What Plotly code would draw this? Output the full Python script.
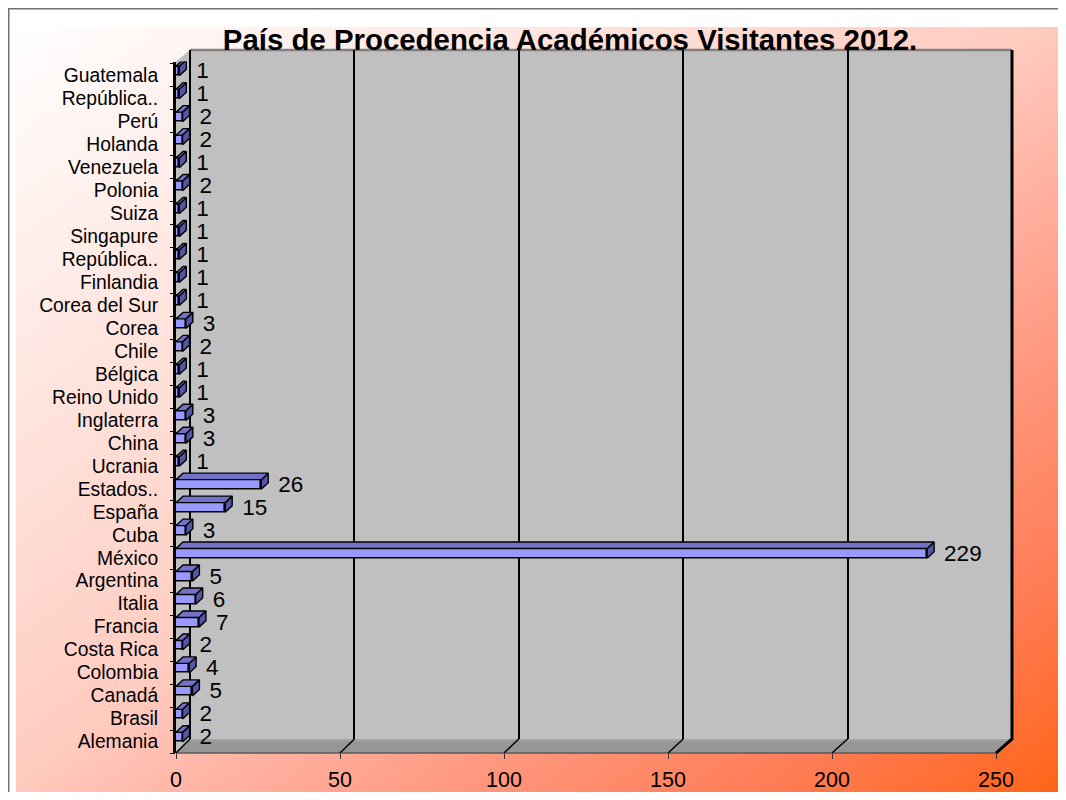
import base64
import plotly.graph_objects as go

# the page has an 8px body margin, so the figure fills the rest of the window
OFF = 8
W, H = 1066 - 2 * OFF, 800 - 2 * OFF

# data, read top to bottom as in the chart
countries = ["Guatemala", "República..", "Perú", "Holanda", "Venezuela", "Polonia",
             "Suiza", "Singapure", "República..", "Finlandia", "Corea del Sur", "Corea",
             "Chile", "Bélgica", "Reino Unido", "Inglaterra", "China", "Ucrania",
             "Estados..", "España", "Cuba", "México", "Argentina", "Italia", "Francia",
             "Costa Rica", "Colombia", "Canadá", "Brasil", "Alemania"]
visitors = [1, 1, 2, 2, 1, 2, 1, 1, 1, 1, 1, 3, 2, 1, 1, 3, 3, 1,
            26, 15, 3, 229, 5, 6, 7, 2, 4, 5, 2, 2]
x_ticks = [0, 50, 100, 150, 200, 250]
title = "País de Procedencia Académicos Visitantes 2012."

# plotly puts the first category at the bottom
names = countries[::-1]
vals = visitors[::-1]
pos = list(range(len(names)))
n = len(names)

FONT = "Arial, Liberation Sans, sans-serif"

# 3d box geometry, in window pixels
FRONT_L, FRONT_R = 176, 996
BACK_L, BACK_R = 190, 1012
WALL_TOP, BACK_BOTTOM, FRONT_BOTTOM = 50, 739, 753
ROW = 22.97
XMAX = x_ticks[-1]
RIGHT, BOTTOM = OFF + W, OFF + H


def px(x):
    return (x - OFF) / W


def py(y):
    return 1 - (y - OFF) / H


def pt(x, y):
    return f"{px(x):.5f},{py(y):.5f}"


scale_x = (FRONT_R - FRONT_L) / XMAX
back_scale = (BACK_R - BACK_L) / XMAX
dxu = 7 / scale_x       # bar depth in data units
dyu = 6.5 / ROW
lo, hi = -0.02, 0.40    # front face of a bar, relative to its row
label_gap = 10 / scale_x

# top and side faces of the bars
top_x, top_y, side_x, side_y = [], [], [], []
for i, v in zip(pos, vals):
    top_x += [0, v, v + dxu, dxu, 0, None]
    top_y += [i + hi, i + hi, i + hi + dyu, i + hi + dyu, i + hi, None]
    side_x += [v, v + dxu, v + dxu, v, v, None]
    side_y += [i + lo, i + lo + dyu, i + hi + dyu, i + hi, i + lo, None]

fig = go.Figure()

# empty trace so the back wall subplot (and its grid) gets drawn
fig.add_trace(go.Scatter(x=[None], y=[None], xaxis="x", yaxis="y",
                         mode="markers", hoverinfo="skip"))

fig.add_trace(go.Bar(
    x=vals, y=pos, orientation="h", base=0, width=hi - lo, offset=lo,
    marker=dict(color="#9999FF", line=dict(color="black", width=1.6)),
    xaxis="x2", yaxis="y2", hoverinfo="skip"
))
fig.add_trace(go.Scatter(
    x=side_x, y=side_y, mode="lines", fill="toself", fillcolor="#5555A8",
    line=dict(color="black", width=1.4), xaxis="x2", yaxis="y2", hoverinfo="skip"
))
fig.add_trace(go.Scatter(
    x=top_x, y=top_y, mode="lines", fill="toself", fillcolor="#7272C8",
    line=dict(color="black", width=1.4), xaxis="x2", yaxis="y2", hoverinfo="skip"
))
fig.add_trace(go.Scatter(
    x=[v + dxu + label_gap for v in vals], y=[i + 0.12 for i in pos],
    mode="text", text=[str(v) for v in vals], textposition="middle right",
    textfont=dict(family=FONT, size=22.5, color="black"),
    xaxis="x2", yaxis="y3", hoverinfo="skip", cliponaxis=False
))

# background gradient
stops = [(0, "#FFFFFF"), (0.49, "#FFCCC0"), (0.6, "#FFB0A0"), (0.73, "#FF9478"),
         (0.86, "#FF7C55"), (1, "#FF6418")]
svg = ('<svg xmlns="http://www.w3.org/2000/svg" width="100" height="100" '
       'viewBox="0 0 100 100" preserveAspectRatio="none"><defs>'
       '<linearGradient id="g" x1="0" y1="0" x2="1" y2="1">'
       + "".join(f'<stop offset="{o}" stop-color="{c}"/>' for o, c in stops)
       + '</linearGradient></defs><rect width="100" height="100" fill="url(#g)"/></svg>')
bg_src = "data:image/svg+xml;base64," + base64.b64encode(svg.encode()).decode()

shapes = []


def add_path(points, fill=None, color=None, width=0):
    d = "M" + " L".join(pt(x, y) for x, y in points)
    if fill:
        d += " Z"
    shapes.append(dict(type="path", path=d, xref="paper", yref="paper", layer="below",
                       fillcolor=fill or "rgba(0,0,0,0)",
                       line=dict(color=color or "rgba(0,0,0,0)", width=width)))


y_top = FRONT_BOTTOM - (n + 0.1) * ROW

# outer border
add_path([(8.7, BOTTOM), (8.7, 8.7), (RIGHT, 8.7)], color="#707070", width=1.5)
# left wall, back wall, floor
add_path([(FRONT_L, y_top), (BACK_L, WALL_TOP),
          (BACK_L, BACK_BOTTOM), (FRONT_L, FRONT_BOTTOM)], fill="#C0C0C0")
add_path([(BACK_L, WALL_TOP), (BACK_R, WALL_TOP), (BACK_R, BACK_BOTTOM),
          (BACK_L, BACK_BOTTOM)], fill="#C0C0C0")
add_path([(FRONT_L, FRONT_BOTTOM), (BACK_L, BACK_BOTTOM), (BACK_R, BACK_BOTTOM),
          (FRONT_R, FRONT_BOTTOM)], fill="#969696")
add_path([(BACK_L, BACK_BOTTOM + 1), (BACK_R, BACK_BOTTOM + 1)], color="#A8A8A8", width=1.5)
add_path([(FRONT_L, FRONT_BOTTOM), (FRONT_R, FRONT_BOTTOM)], color="#5A5A5A", width=1.5)
# edges of the box
add_path([(BACK_L, WALL_TOP), (BACK_R, WALL_TOP)], color="#808080", width=2.5)
add_path([(BACK_L, WALL_TOP), (BACK_L, BACK_BOTTOM)], color="black", width=2)
add_path([(BACK_R, WALL_TOP), (BACK_R, BACK_BOTTOM), (FRONT_R, FRONT_BOTTOM)],
         color="black", width=3)
# grid lines running across the floor
for t in x_ticks[:-1]:
    add_path([(BACK_L + t * back_scale, BACK_BOTTOM), (FRONT_L + t * scale_x, FRONT_BOTTOM)],
             color="black", width=1.5)

y_dom = [py(FRONT_BOTTOM), py(y_top)]
y_range = [-0.5, n - 0.4]

fig.update_layout(
    width=W, height=H,
    margin=dict(l=0, r=0, t=0, b=0, pad=0, autoexpand=False),
    paper_bgcolor="white",
    plot_bgcolor="rgba(0,0,0,0)",
    showlegend=False,
    bargap=0,
    font=dict(family=FONT, color="black"),
    title=dict(text=title, x=px(570), xanchor="center", y=py(40), yanchor="middle",
               font=dict(family=FONT, size=29.4, color="black", weight="bold")),
    images=[dict(source=bg_src, xref="paper", yref="paper", x=px(16), y=py(27),
                 sizex=(RIGHT - 16) / W, sizey=(BOTTOM - 27) / H, xanchor="left",
                 yanchor="top", sizing="stretch", layer="below")],
    shapes=shapes,
    # back wall grid
    xaxis=dict(domain=[px(BACK_L), px(BACK_R)], range=[0, XMAX], anchor="y",
               tickvals=x_ticks[1:-1], showticklabels=False, ticks="",
               showgrid=True, gridcolor="black", gridwidth=2, zeroline=False,
               showline=False, fixedrange=True, automargin=False),
    yaxis=dict(domain=[py(BACK_BOTTOM), py(WALL_TOP)], range=[0, 1], anchor="x",
               showgrid=False, zeroline=False, showticklabels=False, ticks="",
               showline=False, fixedrange=True, automargin=False),
    # front axes for the bars
    xaxis2=dict(domain=[px(FRONT_L), px(FRONT_R)], range=[0, XMAX], anchor="y2",
                tickvals=x_ticks, ticks="outside", ticklen=5, tickcolor="#333333",
                tickfont=dict(size=21.5), ticklabelstandoff=2,
                showgrid=False, zeroline=False, showline=False, fixedrange=True,
                automargin=False),
    yaxis2=dict(domain=y_dom, range=y_range, anchor="x2",
                tickvals=pos, ticktext=names, ticks="", tickfont=dict(size=19.3),
                ticklabelstandoff=11, showgrid=False, zeroline=False,
                showline=True, linecolor="black", linewidth=3, fixedrange=True,
                automargin=False),
    yaxis3=dict(domain=y_dom, range=y_range, anchor="x2", overlaying="y2",
                tickvals=[i - 0.5 for i in range(n + 1)], ticks="outside", ticklen=5,
                tickcolor="black", showticklabels=False, showgrid=False,
                zeroline=False, showline=False, fixedrange=True, automargin=False),
)

fig.write_html("out.html")
